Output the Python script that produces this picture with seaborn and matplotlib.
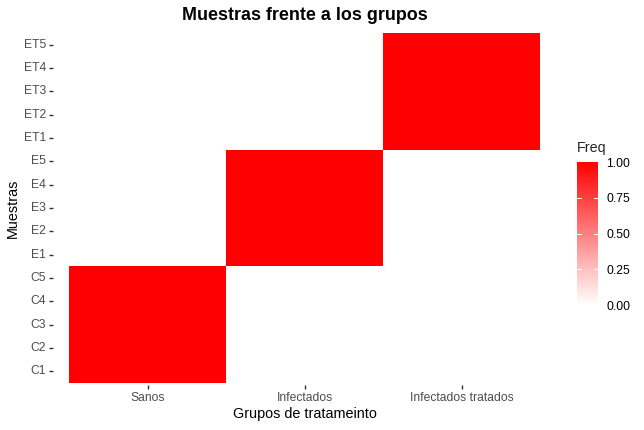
import matplotlib
matplotlib.use("Agg")
import matplotlib.pyplot as plt
from matplotlib.colors import LinearSegmentedColormap
import seaborn as sns
import pandas as pd
import numpy as np

samples = ["C1", "C2", "C3", "C4", "C5", "E1", "E2", "E3", "E4", "E5",
           "ET1", "ET2", "ET3", "ET4", "ET5"]
groups = ["Sanos", "Infectados", "Infectados tratados"]
sample_group = ["Sanos"] * 5 + ["Infectados"] * 5 + ["Infectados tratados"] * 5
freq = [1] * 15

df = pd.DataFrame({"Muestra": samples, "Grupo": sample_group, "Freq": freq})
mat = df.pivot_table(index="Muestra", columns="Grupo", values="Freq", fill_value=0)
mat = mat.reindex(index=samples[::-1], columns=groups).fillna(0)

sns.set_theme(style="white")
plt.rcParams["font.family"] = ["Liberation Sans", "DejaVu Sans"]

# tiles span x 69..540 px, y 33..383 px; ggplot discrete expansion adds 0.1 unit
colw = 471 / 3
rowh = 350 / 15
left = 69 - 0.1 * colw
right = 540 + 0.1 * colw
top = 33 - 0.1 * rowh
bottom = 383 + 0.1 * rowh

fig = plt.figure(figsize=(6.44, 4.30), dpi=100)
ax = fig.add_axes([left/644, 1-bottom/430, (right-left)/644, (bottom-top)/430])
cax = fig.add_axes([577/644, 1-305/430, 21/644, 143/430])

cmap = LinearSegmentedColormap.from_list("wr", ["#FFFFFF", "#FF0000"])
sns.heatmap(mat, ax=ax, cbar_ax=cax, cmap=cmap, vmin=0, vmax=1,
            linewidths=0, cbar_kws={"ticks": [0, 0.25, 0.5, 0.75, 1.0]})
ax.set_xlim(-0.1, len(groups) + 0.1)
ax.set_ylim(len(samples) + 0.1, -0.1)

ax.set_title("Muestras frente a los grupos", fontsize=12.9, fontweight="bold",
             color="black", pad=8)
ax.set_xlabel("Grupos de tratameinto", fontsize=10.4, color="black", labelpad=2)
ax.set_ylabel("Muestras", fontsize=10.4, color="black", labelpad=3)
ax.tick_params(axis="both", which="both", length=2.8, width=1, color="#333333",
               labelsize=8.7, labelcolor="#4D4D4D", pad=2.2,
               bottom=True, left=True)
ax.set_yticklabels(ax.get_yticklabels(), rotation=0)
ax.set_xticklabels(ax.get_xticklabels(), rotation=0)
for s in ax.spines.values():
    s.set_visible(False)

cax.set_yticklabels(["0.00", "0.25", "0.50", "0.75", "1.00"])
cax.tick_params(axis="y", length=0, labelsize=8.7, labelcolor="black", pad=6)
for t in [0.25, 0.5, 0.75]:
    cax.plot([0, 0.2], [t, t], color="white", lw=0.8, transform=cax.get_yaxis_transform())
    cax.plot([0.8, 1], [t, t], color="white", lw=0.8, transform=cax.get_yaxis_transform())
for s in cax.spines.values():
    s.set_visible(False)
cax.set_title("Freq", fontsize=10.4, loc="left", pad=7, x=0.0)

fig.savefig("out.png", dpi=100, facecolor="white")
